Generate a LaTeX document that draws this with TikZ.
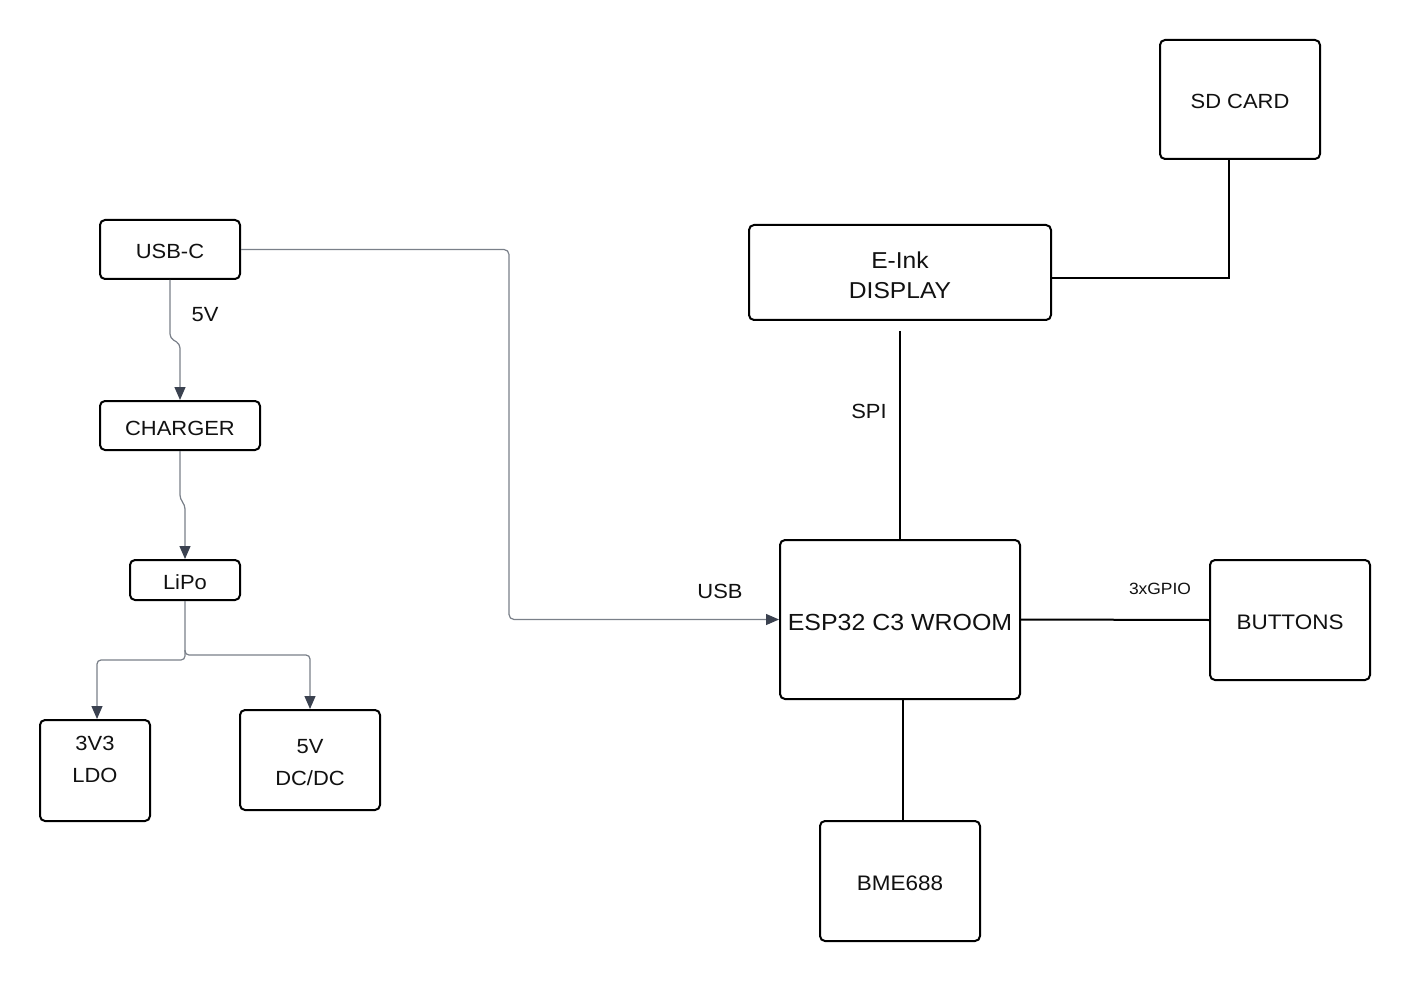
\documentclass[tikz,border=0pt]{standalone}
\usepackage{fontspec}
\setmainfont[FakeStretch=1.07]{Liberation Sans}
\usetikzlibrary{arrows.meta,calc}
\definecolor{conngray}{HTML}{7A8089}
\definecolor{arrowdark}{HTML}{3B4250}
\definecolor{txtc}{HTML}{111111}
\begin{document}
\begin{tikzpicture}[x=1pt,y=-1pt,
  box/.style={draw=black, line width=2pt, rounded corners=5pt, inner sep=0pt, text=txtc, align=center,
    text height=19pt, text depth=0pt, font=\fontsize{20.5}{31}\selectfont},
  txt/.style={inner sep=0pt, text=txtc, align=center, font=\fontsize{20.5}{32}\selectfont},
  conn/.style={draw=conngray, line width=1.2pt, rounded corners=4pt,
    -{Triangle[width=11pt,length=13pt,color=arrowdark]}},
  bus/.style={draw=black, line width=2pt}]
\path[use as bounding box, fill=white] (0,0) rectangle (1410,981);

% left power tree
\node[box, minimum width=140pt, minimum height=59pt] (usbc) at (170,249.5) {USB-C};
\node[box, minimum width=160pt, minimum height=49pt] (charger) at (180,425.5) {CHARGER};
\node[box, minimum width=110pt, minimum height=40pt] (lipo) at (185,580) {LiPo};
\node[box, minimum width=110pt, minimum height=101pt] (ldo) at (95,770.5) {};
\node[txt] (ldotxt) at (95,759) {3V3\\LDO};
\node[box, minimum width=140pt, minimum height=100pt] (dcdc) at (310,760) {};
\node[txt] (dcdctxt) at (310,763) {5V\\DC/DC};

% right side
\node[box, minimum width=160pt, minimum height=119pt] (sd) at (1240,99.5) {SD CARD};
\node[box, minimum width=302pt, minimum height=95pt] (eink) at (900,272.5) {};
\node[txt, font=\fontsize{23}{30}\selectfont] (einktxt) at (900,275) {E-Ink\\DISPLAY};
\node[box, minimum width=240pt, minimum height=159pt, text height=21pt, font=\fontsize{23.3}{30}\selectfont] (esp) at (900,619.5) {ESP32 C3 WROOM};
\node[box, minimum width=160pt, minimum height=120pt, font=\fontsize{21}{31}\selectfont] (buttons) at (1290,620) {BUTTONS};
\node[box, minimum width=160pt, minimum height=120pt, font=\fontsize{21}{31}\selectfont] (bme) at (900,881) {BME688};

% gray connectors
\draw[conn] (usbc.south) -- (170,338) -- (180,344) -- (charger.north -| 180,0);
\draw[conn] (charger.south) -- (180,499) -- (185,505) -- (lipo.north);
\draw[conn] (lipo.south) -- (185,660) -| (ldo.north -| 97,0);
\draw[conn] (185,650) -- (185,655) -| (dcdc.north);
\draw[conn, rounded corners=5pt] (usbc.east) -| ($(esp.west)+(-270,0)$) -- (esp.west);

% black buses
\draw[bus, shorten <=10pt] (eink.south) -- (esp.north);
\draw[bus] (sd.south -| 1229,0) |- ($(eink.east)+(0,5.5)$);
\draw[bus] (esp.east) -- (buttons.west);
\draw[bus] ($(esp.south)+(3,0)$) -- ($(bme.north)+(3,0)$);

% labels
\node[txt] (l5v) at (205,315) {5V};
\node[txt] (lusb) at (720,591) {USB};
\node[txt] (lspi) at (869,411) {SPI};
\node[txt, font=\fontsize{16.3}{20}\selectfont] (lgpio) at (1160,589) {3xGPIO};
\end{tikzpicture}
\end{document}
